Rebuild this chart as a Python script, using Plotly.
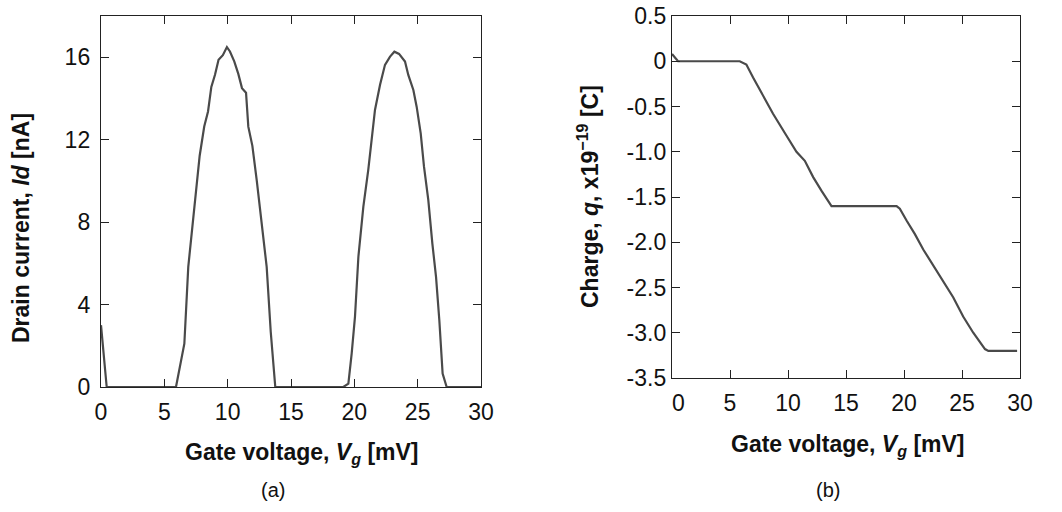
import plotly.graph_objects as go

# Panel (a): drain current vs gate voltage
vg_a = [0, 0.45, 5.92, 6.37, 6.58, 6.89, 7.29, 7.79, 8.15, 8.45, 8.71, 9.0, 9.28, 9.62, 9.94,
        10.18, 10.52, 10.84, 11.13, 11.45, 11.63, 11.95, 12.3, 12.7, 13.08, 13.4, 13.76,
        19.13, 19.53, 19.79, 20.05, 20.32, 20.71, 21.1, 21.37, 21.63, 22.03, 22.42, 22.82,
        23.16, 23.53, 24.0, 24.26, 24.66, 24.92, 25.24, 25.5, 25.84, 26.16, 26.45, 26.71,
        26.97, 27.29, 30]
id_a = [3.0, 0, 0, 1.38, 2.1, 5.83, 8.26, 11.22, 12.64, 13.37, 14.56, 15.15, 15.88, 16.1, 16.49,
        16.28, 15.8, 15.19, 14.5, 14.28, 12.63, 11.7, 10.0, 8.0, 5.83, 2.68, 0,
        0, 0.16, 1.62, 3.4, 6.32, 8.74, 10.53, 12.15, 13.44, 14.66, 15.63, 16.03,
        16.27, 16.16, 15.79, 15.14, 14.41, 13.6, 12.31, 10.69, 9.07, 6.96, 5.34, 3.24,
        0.65, 0, 0]

# Panel (b): charge vs gate voltage
vg_b = [0, 0.52, 5.84, 6.41, 6.99, 7.56, 8.71, 9.86, 10.73, 11.45, 12.17, 12.88, 13.75,
        19.36, 19.64, 20.22, 20.94, 21.66, 22.52, 23.09, 23.67, 24.25, 25.1, 25.97, 26.98,
        27.27, 29.75]
q_b = [0.08, 0, 0, -0.037, -0.18, -0.31, -0.58, -0.82, -1.0, -1.1, -1.28, -1.43, -1.6,
       -1.6, -1.63, -1.76, -1.91, -2.08, -2.26, -2.37, -2.5, -2.61, -2.82, -3.0, -3.18,
       -3.2, -3.2]

x_ticks = [0, 5, 10, 15, 20, 25, 30]
x_ticktext_a = ["0", "5", "10", "15", "20", "25", "30"]
x_ticktext_b = ["\u00a0\u00a00", "5", "10", "15", "20", "25", "30"]
y_ticks_a = [0, 4, 8, 12, 16]
y_ticks_b = [0.5, 0, -0.5, -1.0, -1.5, -2.0, -2.5, -3.0, -3.5]
y_ticktext_b = ["0.5", "0", "-0.5", "-1.0", "-1.5", "-2.0", "-2.5", "-3.0", "-3.5"]

W, H = 1062, 512
FONT = "Arial, Liberation Sans, sans-serif"
LINE = "#4a4a4a"
AX = "#222222"
TICK_SIZE = 23
TITLE_SIZE = 23
LABEL_SIZE = 20

fig = go.Figure()
fig.add_trace(go.Scatter(x=vg_a, y=id_a, mode="lines", line=dict(color=LINE, width=2.2),
                         xaxis="x", yaxis="y", showlegend=False, hoverinfo="skip"))
fig.add_trace(go.Scatter(x=vg_b, y=q_b, mode="lines", line=dict(color=LINE, width=2.2),
                         xaxis="x2", yaxis="y2", showlegend=False, hoverinfo="skip"))

def px_x(p):
    return p / W

def px_y(p):
    return 1 - p / H

axis_common = dict(showline=True, linecolor=AX, linewidth=1.2, mirror="ticks",
                   ticks="inside", ticklen=8, tickwidth=1, tickcolor=AX,
                   showgrid=False, zeroline=False, automargin=False,
                   ticklabeloverflow="allow",
                   tickfont=dict(family=FONT, size=TICK_SIZE, color="#111"))

fig.update_layout(
    width=W, height=H, margin=dict(l=0, r=0, t=0, b=0, autoexpand=False),
    paper_bgcolor="white", plot_bgcolor="white",
    xaxis=dict(domain=[px_x(101), px_x(481)], range=[0, 30], tickvals=x_ticks,
               ticktext=x_ticktext_a, anchor="y", ticklabelstandoff=4, **axis_common),
    yaxis=dict(domain=[px_y(387), px_y(16)], range=[0, 18], tickvals=y_ticks_a,
               anchor="x", ticklabelstandoff=5, **axis_common),
    xaxis2=dict(domain=[px_x(672), px_x(1020)], range=[0, 30], tickvals=x_ticks,
                ticktext=x_ticktext_b, anchor="y2", ticklabelstandoff=4, **axis_common),
    yaxis2=dict(domain=[px_y(378), px_y(16)], range=[-3.5, 0.5], tickvals=y_ticks_b,
                ticktext=y_ticktext_b, anchor="x2", ticklabelstandoff=0, **axis_common),
)

annots = [
    (302, 453, "<b>Gate voltage, <i>V<sub>g</sub></i> [mV]</b>", 0, TITLE_SIZE),
    (21, 228, "<b>Drain current, <i>Id</i> [nA]</b>", -90, TITLE_SIZE),
    (273, 490, "(a)", 0, LABEL_SIZE),
    (848, 445, "<b>Gate voltage, <i>V<sub>g</sub></i> [mV]</b>", 0, TITLE_SIZE),
    (588, 197, "<b>Charge, <i>q</i>, x19<sup>\u221219</sup> [C]</b>", -90, TITLE_SIZE),
    (828, 490, "(b)", 0, LABEL_SIZE),
]
for x, y, text, ang, size in annots:
    fig.add_annotation(x=px_x(x), y=px_y(y), xref="paper", yref="paper", text=text,
                       textangle=ang, showarrow=False, xanchor="center", yanchor="middle",
                       font=dict(family=FONT, size=size, color="#111"))

fig.write_html("out.html", config={"displayModeBar": False, "staticPlot": True},
               post_script="document.body.style.margin='0';document.body.style.overflow='hidden';")
